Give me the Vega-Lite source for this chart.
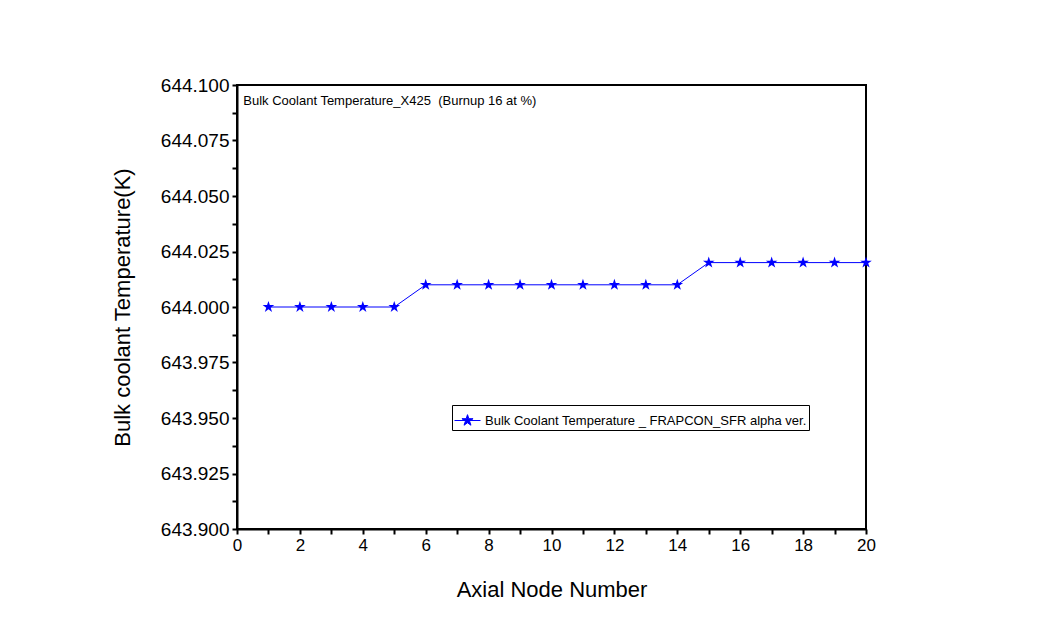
{
  "$schema": "https://vega.github.io/schema/vega-lite/v6.json",
  "autosize": "none",
  "width": 629,
  "height": 444,
  "padding": {"left": 237, "top": 85, "right": 184, "bottom": 101},
  "background": "white",
  "config": {
    "font": "Liberation Sans",
    "view": {"stroke": "black", "strokeWidth": 2},
    "axis": {"grid": false, "domainColor": "black", "domainWidth": 2, "tickColor": "black", "tickWidth": 2, "labelColor": "black", "titleColor": "black", "titleFontWeight": "normal", "labelFont": "Liberation Sans", "titleFont": "Liberation Sans"}
  },
  "datasets": {
    "pts": [
      {"node": 1, "temp": 644.000, "series": "Bulk Coolant Temperature _ FRAPCON_SFR alpha ver."},
      {"node": 2, "temp": 644.000, "series": "Bulk Coolant Temperature _ FRAPCON_SFR alpha ver."},
      {"node": 3, "temp": 644.000, "series": "Bulk Coolant Temperature _ FRAPCON_SFR alpha ver."},
      {"node": 4, "temp": 644.000, "series": "Bulk Coolant Temperature _ FRAPCON_SFR alpha ver."},
      {"node": 5, "temp": 644.000, "series": "Bulk Coolant Temperature _ FRAPCON_SFR alpha ver."},
      {"node": 6, "temp": 644.010, "series": "Bulk Coolant Temperature _ FRAPCON_SFR alpha ver."},
      {"node": 7, "temp": 644.010, "series": "Bulk Coolant Temperature _ FRAPCON_SFR alpha ver."},
      {"node": 8, "temp": 644.010, "series": "Bulk Coolant Temperature _ FRAPCON_SFR alpha ver."},
      {"node": 9, "temp": 644.010, "series": "Bulk Coolant Temperature _ FRAPCON_SFR alpha ver."},
      {"node": 10, "temp": 644.010, "series": "Bulk Coolant Temperature _ FRAPCON_SFR alpha ver."},
      {"node": 11, "temp": 644.010, "series": "Bulk Coolant Temperature _ FRAPCON_SFR alpha ver."},
      {"node": 12, "temp": 644.010, "series": "Bulk Coolant Temperature _ FRAPCON_SFR alpha ver."},
      {"node": 13, "temp": 644.010, "series": "Bulk Coolant Temperature _ FRAPCON_SFR alpha ver."},
      {"node": 14, "temp": 644.010, "series": "Bulk Coolant Temperature _ FRAPCON_SFR alpha ver."},
      {"node": 15, "temp": 644.020, "series": "Bulk Coolant Temperature _ FRAPCON_SFR alpha ver."},
      {"node": 16, "temp": 644.020, "series": "Bulk Coolant Temperature _ FRAPCON_SFR alpha ver."},
      {"node": 17, "temp": 644.020, "series": "Bulk Coolant Temperature _ FRAPCON_SFR alpha ver."},
      {"node": 18, "temp": 644.020, "series": "Bulk Coolant Temperature _ FRAPCON_SFR alpha ver."},
      {"node": 19, "temp": 644.020, "series": "Bulk Coolant Temperature _ FRAPCON_SFR alpha ver."},
      {"node": 20, "temp": 644.020, "series": "Bulk Coolant Temperature _ FRAPCON_SFR alpha ver."}
    ],
    "note": [{"node": 0.2, "temp": 644.093, "caption": "Bulk Coolant Temperature_X425\u00a0 (Burnup 16 at %)"}]
  },
  "encoding": {
    "x": {"field": "node", "type": "quantitative", "scale": {"domain": [0, 20], "nice": false},
      "axis": {"values": [0, 1, 2, 3, 4, 5, 6, 7, 8, 9, 10, 11, 12, 13, 14, 15, 16, 17, 18, 19, 20], "labelExpr": "datum.value % 2 === 0 ? datum.label : ''", "format": "d", "labelFontSize": 17, "tickSize": 5, "labelPadding": 3, "labelFlush": false, "labelOverlap": false, "title": "Axial Node Number", "titleFontSize": 22, "titleX": 314.5, "titleY": 60, "titleBaseline": "middle", "titleAlign": "center"}},
    "y": {"field": "temp", "type": "quantitative", "scale": {"domain": [643.9, 644.1], "nice": false, "zero": false},
      "axis": {"values": [643.9, 643.9125, 643.925, 643.9375, 643.95, 643.9625, 643.975, 643.9875, 644.0, 644.0125, 644.025, 644.0375, 644.05, 644.0625, 644.075, 644.0875, 644.1], "labelExpr": "round(datum.value*10000) % 250 === 0 ? datum.label : ''", "format": ".3f", "labelFontSize": 19, "tickSize": 5, "labelPadding": 3, "labelFlush": false, "labelOverlap": false, "title": "Bulk coolant Temperature(K)", "titleFontSize": 22, "titleX": -115, "titleY": 222, "titleAngle": -90, "titleBaseline": "middle", "titleAlign": "center"}}
  },
  "layer": [
    {
      "data": {"name": "pts"},
      "mark": {"type": "line", "strokeWidth": 1},
      "encoding": {
        "color": {"field": "series", "type": "nominal", "scale": {"range": ["#0000ff"]},
          "legend": {"title": null, "orient": "none", "legendX": 215, "legendY": 320, "strokeColor": "black", "padding": 2, "labelFontSize": 13, "labelLimit": 0, "labelColor": "black", "labelFont": "Liberation Sans", "symbolType": "M-1,0H1M0,-0.45L0.101,-0.139L0.428,-0.139L0.163,0.053L0.265,0.364L0,0.172L-0.265,0.364L-0.163,0.053L-0.428,-0.139L-0.101,-0.139Z", "symbolSize": 676, "symbolStrokeWidth": 1, "symbolFillColor": "#0000ff", "symbolStrokeColor": "#0000ff", "labelOffset": 4}}
      }
    },
    {
      "data": {"name": "pts"},
      "mark": {"type": "point", "shape": "M0,-1L0.225,-0.309L0.951,-0.309L0.363,0.118L0.588,0.809L0,0.382L-0.588,0.809L-0.363,0.118L-0.951,-0.309L-0.225,-0.309Z", "filled": true, "size": 150, "opacity": 1},
      "encoding": {
        "color": {"field": "series", "type": "nominal"}
      }
    },
    {
      "data": {"name": "note"},
      "mark": {"type": "text", "align": "left", "baseline": "middle", "fontSize": 13, "font": "Liberation Sans", "color": "black"},
      "encoding": {
        "text": {"field": "caption", "type": "nominal"}
      }
    }
  ]
}
